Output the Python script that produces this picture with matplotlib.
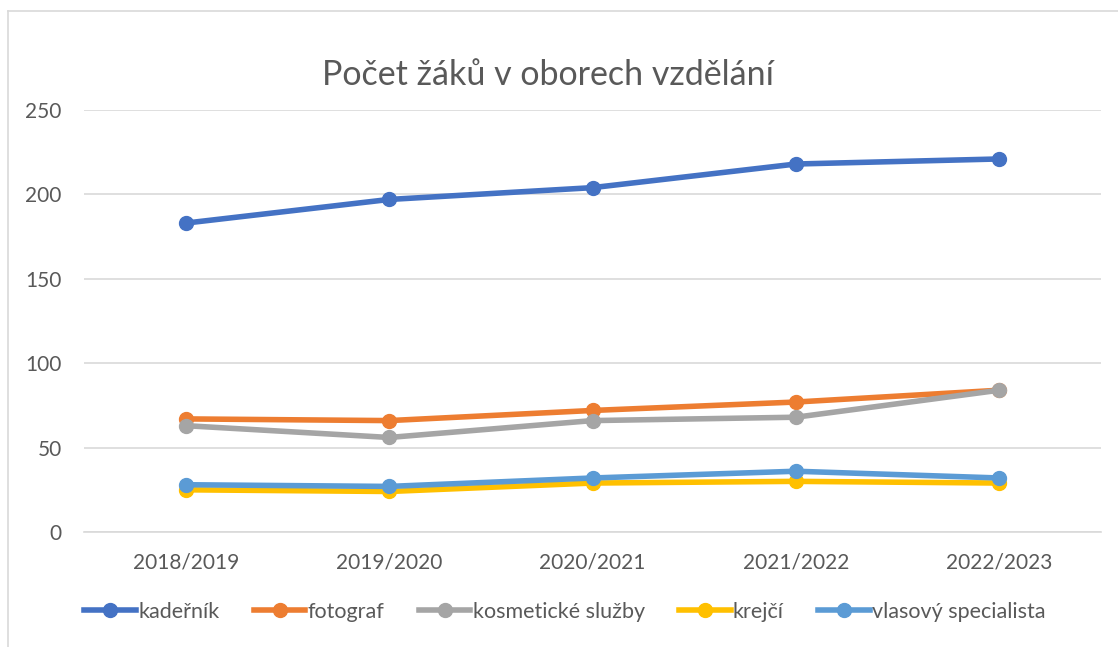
import matplotlib
matplotlib.use("Agg")
import matplotlib.pyplot as plt
from matplotlib.lines import Line2D

# data
years = ["2018/2019", "2019/2020", "2020/2021", "2021/2022", "2022/2023"]
kadernik = [183, 197, 204, 218, 221]
fotograf = [67, 66, 72, 77, 84]
kosmeticke = [63, 56, 66, 68, 84]
krejci = [25, 24, 29, 30, 29]
vlasovy = [28, 27, 32, 36, 32]

series_names = ["kadeřník", "fotograf", "kosmetické služby", "krejčí", "vlasový specialista"]
series_vals = [kadernik, fotograf, kosmeticke, krejci, vlasovy]
colors = ["#4472C4", "#ED7D31", "#A5A5A5", "#FFC000", "#5B9BD5"]

plt.rcParams['font.family'] = ['Lato', 'DejaVu Sans']

fig = plt.figure(figsize=(11.18, 6.47), dpi=100)
ax = fig.add_axes([84 / 1118, 1 - 532 / 647, (1101 - 84) / 1118, (532 - 110) / 647])

x = range(len(years))
for name, vals, col in zip(series_names, series_vals, colors):
    ax.plot(x, vals, color=col, lw=4, marker="o", markersize=10, label=name,
            solid_capstyle="round", zorder=3)

ax.set_xlim(-0.5, len(years) - 0.5)
ax.set_ylim(0, 250)
ax.set_yticks(range(0, 251, 50))
ax.set_xticks(list(x))
ax.set_xticklabels(years)
ax.grid(axis="y", color="#D9D9D9", lw=1.2)
ax.set_axisbelow(True)
for s in ["top", "right", "left"]:
    ax.spines[s].set_visible(False)
ax.spines["bottom"].set_color("#D9D9D9")
ax.spines["bottom"].set_linewidth(1.2)
ax.tick_params(axis="both", length=0, labelsize=15, labelcolor="#595959")
ax.tick_params(axis="y", pad=16)
ax.tick_params(axis="x", pad=15)

fig.text(548 / 1118, 1 - 75 / 647, "Počet žáků v oborech vzdělání", ha="center", va="center",
         fontsize=24.5, color="#595959")

handles = [Line2D([], [], color=c, lw=4, marker="o", markersize=10) for c in colors]
fig.legend(handles, series_names, loc="center", bbox_to_anchor=(565 / 1118, 1 - 612 / 647),
           ncol=5, frameon=False, fontsize=15.5, labelcolor="#595959", handlelength=2.4,
           handletextpad=0.1, columnspacing=1.6)

# chart border (left and top edges visible in the reference)
fig.add_artist(Line2D([7.5 / 1118, 7.5 / 1118], [0, 1 - 11 / 647], color="#D9D9D9", lw=1.2))
fig.add_artist(Line2D([7.5 / 1118, 1], [1 - 11 / 647, 1 - 11 / 647], color="#D9D9D9", lw=1.2))

fig.savefig("out.png", dpi=100)
